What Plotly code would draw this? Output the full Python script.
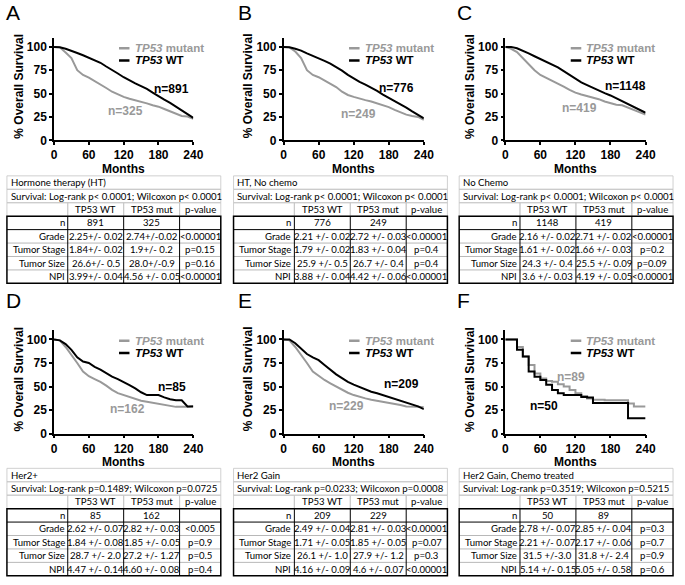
import plotly.graph_objects as go

# ---- data ----
MONTHS = [0, 10, 20, 30, 40, 50, 60, 70, 80, 90, 100, 110, 120,
          130, 140, 150, 160, 170, 180, 190, 200, 210, 220, 230, 240]

WT_A = [100, 99.5, 98, 96, 93.5, 91, 88.5, 86, 83, 79, 75.5, 71.5, 67.5,
        64, 61, 58, 55, 51, 47, 43.5, 40, 36, 32, 28, 24]
MUT_A = [100, 99.5, 94, 88, 75, 70, 67, 63.5, 60, 56, 52, 49, 46.5,
         44.5, 43, 41, 39.5, 37.5, 36, 33.5, 31, 28, 26, 25.5, 23]

WT_B = [100, 99.5, 98, 96, 93, 90.5, 88, 85, 82, 78.5, 74.5, 70, 66,
        62.5, 59.5, 56.5, 53, 49, 45.5, 42, 39, 35, 31, 27, 23.5]
MUT_B = [100, 99.5, 95, 88, 75, 70, 67.5, 64, 60, 57, 52, 48.5, 46.5,
         44.5, 43, 41.5, 39.5, 37.5, 35.5, 32.5, 30, 27.5, 26, 25, 22]

WT_C = [100, 100, 98.5, 96, 93, 90, 87, 84.5, 81.5, 78, 74, 70, 66,
        62, 59, 56, 53.5, 50.5, 48, 45, 42, 39, 36, 33, 29.5]
MUT_C = [100, 98, 94.5, 88, 82, 75, 70, 67, 64, 61, 57.5, 54, 51,
         49, 47.5, 46, 44, 41.5, 39.5, 38, 37.5, 35, 33, 30.5, 27.5]

WT_D = [100, 99, 95, 89, 81, 76.5, 75, 71, 68, 64, 60.5, 58, 55,
        51.5, 48, 44, 41, 41, 41, 38.5, 36.5, 35.5, 35.5, 29, 29]
MUT_D = [100, 99, 92, 84, 75, 66, 61, 58, 55, 51, 46.5, 43, 41,
         39, 37, 35, 34, 33, 32, 31, 30, 28.5, 28.5, 28.5, 29.5]

WT_E = [100, 100, 96, 90, 84.5, 81, 78, 73, 67.5, 63, 59, 55, 52,
        49.5, 46.5, 44.5, 43, 41, 39, 37, 35.5, 33.5, 31, 29, 26]
MUT_E = [100, 99, 92, 84, 75, 66, 61, 57, 53.5, 50, 46.5, 43.5, 41,
         39, 37.5, 36, 35, 34, 33, 32, 30.5, 29, 29, 28.5, 28]

WT_F = [100, 100, 89, 82, 66, 60.5, 57, 52, 46.5, 43, 41, 41, 41,
        39, 38.5, 32.5, 32.5, 32.5, 32.5, 32.5, 32.5, 16.5, 16.5, 16.5, 16.5]
MUT_F = [100, 100, 92, 82, 73, 64, 58.5, 56, 55, 52.5, 50, 46.5, 43,
         40, 37.5, 36, 36, 35.5, 35.5, 35.5, 35.5, 32, 29, 29, 29]

WT_CURVES = [WT_A, WT_B, WT_C, WT_D, WT_E, WT_F]
MUT_CURVES = [MUT_A, MUT_B, MUT_C, MUT_D, MUT_E, MUT_F]

N_WT = [891, 776, 1148, 85, 209, 50]
N_MUT = [325, 249, 419, 162, 229, 89]

PANEL_LETTERS = ["A", "B", "C", "D", "E", "F"]

TABLE_TITLES = ["Hormone therapy (HT)", "HT, No chemo", "No Chemo",
                "Her2+", "Her2 Gain", "Her2 Gain, Chemo treated"]
SURVIVAL_TEXT = [
    "Survival: Log-rank p< 0.0001; Wilcoxon p< 0.0001",
    "Survival: Log-rank p< 0.0001; Wilcoxon p< 0.0001",
    "Survival: Log-rank p< 0.0001; Wilcoxon p< 0.0001",
    "Survival: Log-rank p=0.1489; Wilcoxon p=0.0725",
    "Survival: Log-rank p=0.0233; Wilcoxon p=0.0008",
    "Survival: Log-rank p=0.3519; Wilcoxon p=0.5215",
]
HEADER = ["TP53 WT", "TP53 mut", "p-value"]
ROW_LABELS = ["n", "Grade", "Tumor Stage", "Tumor Size", "NPI"]

TAB_WT = [
    ["891", "2.25+/- 0.02", "1.84+/- 0.02", "26.6+/- 0.5", "3.99+/- 0.04"],
    ["776", "2.21 +/- 0.02", "1.79 +/- 0.02", "25.9 +/- 0.5", "3.88 +/- 0.04"],
    ["1148", "2.16 +/- 0.02", "1.61 +/- 0.02", "24.3 +/- 0.4", "3.6 +/- 0.03"],
    ["85", "2.62 +/- 0.07", "1.84 +/- 0.08", "28.7 +/- 2.0", "4.47 +/- 0.14"],
    ["209", "2.49 +/- 0.04", "1.71 +/- 0.05", "26.1 +/- 1.0", "4.16 +/- 0.09"],
    ["50", "2.78 +/- 0.07", "2.21 +/- 0.07", "31.5 +/-3.0", "5.14 +/- 0.15"],
]
TAB_MUT = [
    ["325", "2.74+/-0.02", "1.9+/- 0.2", "28.0+/-0.9", "4.56 +/- 0.05"],
    ["249", "2.72 +/- 0.03", "1.83 +/- 0.04", "26.7 +/- 0.4", "4.42 +/- 0.06"],
    ["419", "2.71 +/- 0.02", "1.66 +/- 0.03", "25.5 +/- 0.09", "4.19 +/- 0.05"],
    ["162", "2.82 +/- 0.03", "1.85 +/- 0.05", "27.2 +/- 1.27", "4.60 +/- 0.08"],
    ["229", "2.81 +/- 0.03", "1.85 +/- 0.05", "27.9 +/- 1.2", "4.6 +/- 0.07"],
    ["89", "2.85 +/- 0.04", "2.17 +/- 0.06", "31.8 +/- 2.4", "5.05 +/- 0.58"],
]
TAB_P = [
    ["", "<0.00001", "p=0.15", "p=0.16", "<0.00001"],
    ["", "<0.00001", "p=0.4", "p=0.4", "<0.00001"],
    ["", "<0.00001", "p=0.2", "p=0.09", "<0.00001"],
    ["", "<0.005", "p=0.9", "p=0.5", "p=0.4"],
    ["", "<0.00001", "p=0.07", "p=0.3", "<0.00001"],
    ["", "p=0.3", "p=0.7", "p=0.9", "p=0.6"],
]

# ---- layout constants (pixels) ----
W, H = 685, 585
GRAY = "#999999"
FONT = "Liberation Sans, Arial, sans-serif"
TFONT = "Lato, Calibri, sans-serif"

ROW_PX = [(38, 142), (334, 439)]          # plot top/bottom per row
COL_PX = [(52, 194), (286, 429), (512, 655)]
LETTER_X = [1, 238, 461]
LETTER_Y = [13, 304]
TAB_X = [4, 235, 465]
TAB_Y = [178, 474]
TAB_COLS = [0, 62, 119, 176, 218]
ROW_H = 13.6

# n label positions in data units (months, %)
N_WT_POS = [(202, 55), (193, 56), (206, 58), (203, 50), (202, 53), (66, 29)]
N_MUT_POS = [(123, 31), (128, 28), (127, 35), (126, 26), (107, 29.5), (112, 60)]


def px(x):
    return x / W


def py(y):
    return 1 - y / H


fig = go.Figure()
annotations = []
shapes = []
layout = {}


def note(text, x, y, xref="paper", yref="paper", xanchor="center",
         size=12, color="black", family=FONT, **kw):
    annotations.append(dict(text=text, x=x, y=y, xref=xref, yref=yref,
                            xanchor=xanchor, yanchor="middle", showarrow=False,
                            font=dict(family=family, size=size, color=color),
                            **kw))


for i in range(6):
    r, c = divmod(i, 3)
    n = i + 1
    xa, ya = "x%d" % n, "y%d" % n
    shape_kw = "hv" if i == 5 else "linear"

    fig.add_trace(go.Scatter(x=MONTHS, y=MUT_CURVES[i], mode="lines",
                             line=dict(color=GRAY, width=2, shape=shape_kw),
                             xaxis=xa, yaxis=ya, showlegend=False))
    fig.add_trace(go.Scatter(x=MONTHS, y=WT_CURVES[i], mode="lines",
                             line=dict(color="black", width=2, shape=shape_kw),
                             xaxis=xa, yaxis=ya, showlegend=False))

    x0, x1 = COL_PX[c]
    top, bot = ROW_PX[r]
    axis_common = dict(showline=True, linecolor="black", linewidth=1.5,
                       ticks="outside", ticklen=3, tickwidth=1.5,
                       tickcolor="black", showgrid=False, zeroline=False,
                       tickfont=dict(family=FONT, size=12, color="black",
                                     weight="bold"))
    layout["xaxis%d" % n] = dict(domain=[px(x0), px(x1)], anchor=ya,
                                 range=[0, 240], tickvals=[0, 60, 120, 180, 240],
                                 **axis_common)
    layout["yaxis%d" % n] = dict(domain=[py(bot), py(top)], anchor=xa,
                                 range=[0, 110], tickvals=[0, 25, 50, 75, 100],
                                 **axis_common)

    note(PANEL_LETTERS[i], px(LETTER_X[c]), py(LETTER_Y[r]), xanchor="left",
         size=21)
    note("<b>% Overall Survival</b>", px(x0 - 36), py((top + bot) / 2 - 3),
         textangle=-90)
    note("<b>Months</b>", px((x0 + x1) / 2), py(bot + 29), borderpad=0)

    # in-plot legend
    for yy, col, txt in [(98.5, GRAY, "<b><i>TP53</i> mutant</b>"),
                         (85.5, "black", "<b><i>TP53</i> WT</b>")]:
        shapes.append(dict(type="line", xref=xa, yref=ya, x0=112, x1=130,
                           y0=yy, y1=yy, line=dict(color=col, width=2.5)))
        note(txt, 137, yy, xref=xa, yref=ya, xanchor="left", color=col,
             size=11.5, borderpad=0)

    # n labels
    note("<b>n=%d</b>" % N_WT[i], N_WT_POS[i][0], N_WT_POS[i][1],
         xref=xa, yref=ya)
    note("<b>n=%d</b>" % N_MUT[i], N_MUT_POS[i][0], N_MUT_POS[i][1],
         xref=xa, yref=ya, color=GRAY)

    # ---- table ----
    left = TAB_X[c]
    t0 = TAB_Y[r]
    edges = [left + e for e in TAB_COLS]
    rows = [t0 + k * ROW_H for k in range(9)]

    def rect(xa0, ya0, xa1, ya1, color, width):
        shapes.append(dict(type="rect", xref="paper", yref="paper",
                           x0=px(xa0), x1=px(xa1), y0=py(ya1), y1=py(ya0),
                           line=dict(color=color, width=width)))

    def hline(xa0, xa1, yy, color, width):
        shapes.append(dict(type="line", xref="paper", yref="paper",
                           x0=px(xa0), x1=px(xa1), y0=py(yy), y1=py(yy),
                           line=dict(color=color, width=width)))

    def vline(xx, ya0, ya1, color, width):
        shapes.append(dict(type="line", xref="paper", yref="paper",
                           x0=px(xx), x1=px(xx), y0=py(ya0), y1=py(ya1),
                           line=dict(color=color, width=width)))

    light = "#c4c4c4"
    rect(edges[0], rows[0], edges[4], rows[1], light, 0.8)
    rect(edges[0], rows[1], edges[4], rows[2], light, 0.8)
    for k in range(4):
        rect(edges[k], rows[2], edges[k + 1], rows[3], light, 0.8)
    for k in range(5, 8):
        hline(edges[0], edges[4], rows[k], "#9a9a9a", 0.7)
    hline(edges[0], edges[4], rows[4], "black", 1)
    for k in range(1, 4):
        vline(edges[k], rows[3], rows[8], "black", 1)
    rect(edges[0], rows[3], edges[4], rows[8], "black", 1.5)

    def cell(txt, x, yy, anchor):
        note(txt, px(x), py(yy), xanchor=anchor, size=9.6, color="black",
             family=TFONT, borderpad=0)

    cell(TABLE_TITLES[i], edges[0] + 3, (rows[0] + rows[1]) / 2, "left")
    cell(SURVIVAL_TEXT[i], edges[0] + 3, (rows[1] + rows[2]) / 2, "left")
    for k in range(3):
        cell(HEADER[k], (edges[k + 1] + edges[k + 2]) / 2,
             (rows[2] + rows[3]) / 2, "center")
    for k in range(5):
        ym = (rows[3 + k] + rows[4 + k]) / 2
        cell(ROW_LABELS[k], edges[1] - 2, ym, "right")
        cell(TAB_WT[i][k], (edges[1] + edges[2]) / 2, ym, "center")
        cell(TAB_MUT[i][k], (edges[2] + edges[3]) / 2, ym, "center")
        if TAB_P[i][k]:
            cell(TAB_P[i][k], (edges[3] + edges[4]) / 2, ym, "center")

fig.update_layout(width=W, height=H, margin=dict(l=0, r=0, t=0, b=0),
                  plot_bgcolor="white", paper_bgcolor="white",
                  font=dict(family=FONT, color="black"),
                  annotations=annotations, shapes=shapes, **layout)

# page body has a default 8px margin; drop it so the figure sits at 0,0
fig.write_html("out.html", config={"displayModeBar": False},
               post_script="document.body.style.margin='0';")
